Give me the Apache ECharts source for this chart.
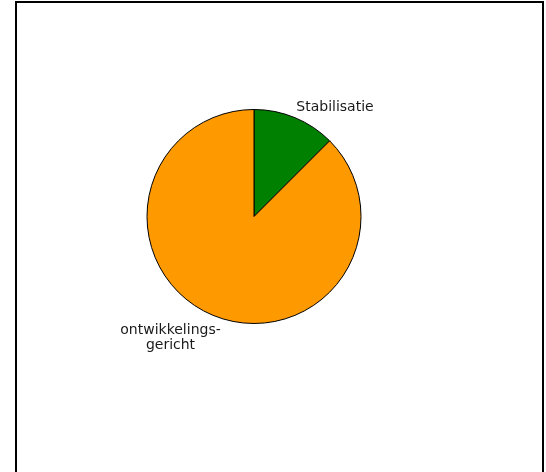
<!DOCTYPE html>
<html>
<head>
<meta charset="utf-8">
<script src="https://cdn.jsdelivr.net/npm/echarts@6/dist/echarts.min.js"></script>
<style>
  html, body { margin: 0; padding: 0; background: #fff; }
  #chart { width: 546px; height: 472px; }
</style>
</head>
<body>
<div id="chart"></div>
<script>
// slice names and their values (share of 8)
const categories = ["Stabilisatie", "ontwikkelings-\ngericht"];
const values = [1, 7];
const colors = ["#008000", "#ff9900"];

// where each label sits (px)
const labelPos = [
  [335, 107],
  [170.5, 338],
];

const chart = echarts.init(document.getElementById("chart"));
chart.setOption({
  backgroundColor: "#fff",
  animation: false,
  graphic: [
    {
      type: "rect",
      shape: { x: 16, y: 2, width: 527, height: 520 },
      style: { fill: "none", stroke: "#000", lineWidth: 2 },
      silent: true,
    },
  ],
  series: [
    {
      type: "pie",
      center: [254, 216.5],
      radius: [0, 107],
      startAngle: 90,
      clockwise: true,
      itemStyle: { borderColor: "#000", borderWidth: 1 },
      label: {
        show: true,
        position: "outside",
        color: "#1a1a1a",
        fontFamily: "DejaVu Sans",
        fontSize: 14,
        lineHeight: 15,
        align: "center",
      },
      labelLine: { show: false },
      labelLayout: (params) => ({
        x: labelPos[params.dataIndex][0],
        y: labelPos[params.dataIndex][1],
        align: "center",
        verticalAlign: "middle",
      }),
      emphasis: { disabled: true },
      data: categories.map((name, i) => ({
        name: name,
        value: values[i],
        itemStyle: { color: colors[i] },
      })),
    },
  ],
});
</script>
</body>
</html>
